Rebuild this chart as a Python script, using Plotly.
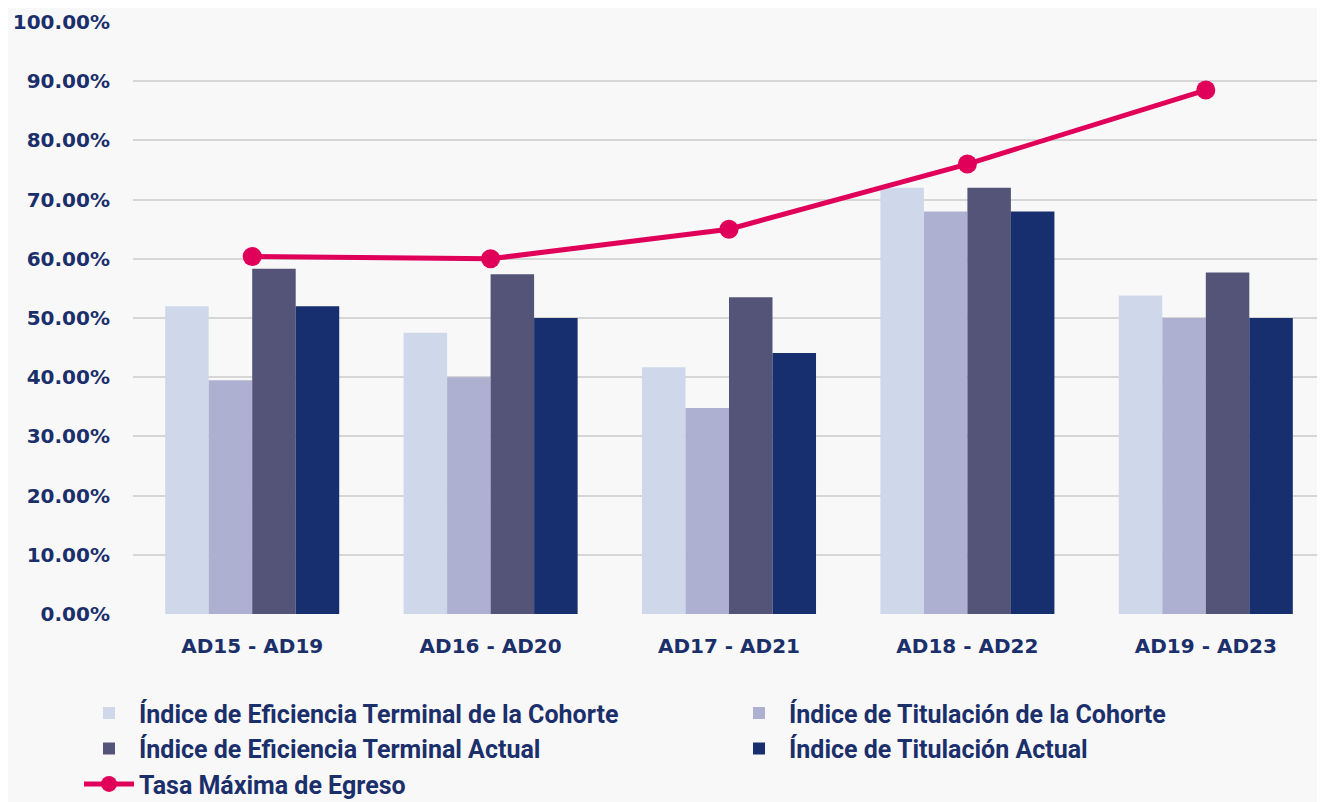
import plotly.graph_objects as go

categories = ["AD15 - AD19", "AD16 - AD20", "AD17 - AD21", "AD18 - AD22", "AD19 - AD23"]
ef_cohorte = [0.520, 0.475, 0.417, 0.720, 0.538]
tit_cohorte = [0.395, 0.400, 0.348, 0.680, 0.500]
ef_actual = [0.583, 0.574, 0.535, 0.720, 0.577]
tit_actual = [0.520, 0.500, 0.441, 0.680, 0.500]
tasa_max = [0.604, 0.600, 0.650, 0.760, 0.885]

names = [
    "Índice de Eficiencia Terminal de la Cohorte",
    "Índice de Titulación de la Cohorte",
    "Índice de Eficiencia Terminal Actual",
    "Índice de Titulación Actual",
    "Tasa Máxima de Egreso",
]
colors = ["#cfd8ea", "#adb0d0", "#545478", "#172f6e", "#e0005a"]
text_color = "#1b2f6b"

fig = go.Figure()
for vals, name, col in zip([ef_cohorte, tit_cohorte, ef_actual, tit_actual], names[:4], colors[:4]):
    fig.add_trace(go.Bar(x=categories, y=vals, name=name, marker=dict(color=col, line=dict(width=0))))

fig.add_trace(go.Scatter(
    x=categories, y=tasa_max, name=names[4], mode="lines+markers",
    line=dict(color=colors[4], width=5),
    marker=dict(color=colors[4], size=19),
))

# The page body adds an 8px offset, so the figure is 8px smaller and shifted.
fig.update_layout(
    width=1317, height=794,
    margin=dict(l=125, r=0, t=14, b=188, autoexpand=False),
    paper_bgcolor="#f8f8f9",
    plot_bgcolor="rgba(0,0,0,0)",
    barmode="group",
    bargap=0.27,
    bargroupgap=0,
    font=dict(family="DejaVu Sans", color=text_color, size=20),
    legend=dict(
        orientation="h",
        x=-0.0453, xanchor="left",
        y=-0.1286, yanchor="top",
        entrywidth=585,
        font=dict(family="Roboto", size=25, color=text_color, weight="bold"),
        bgcolor="rgba(0,0,0,0)",
        itemwidth=50,
        traceorder="normal",
    ),
    showlegend=True,
)
fig.update_xaxes(
    showgrid=False, showline=False, zeroline=False,
    tickfont=dict(family="DejaVu Sans", size=20, color=text_color, weight="bold"),
    ticklabelstandoff=18,
)
fig.update_yaxes(
    range=[0, 1], dtick=0.1, tickformat=".2%",
    showgrid=True, gridcolor="#d6d6d6", gridwidth=2,
    zeroline=False, showline=False,
    tickfont=dict(family="DejaVu Sans", size=20, color=text_color, weight="bold"),
    ticklabelstandoff=22,
)

fig.write_html("out.html")
